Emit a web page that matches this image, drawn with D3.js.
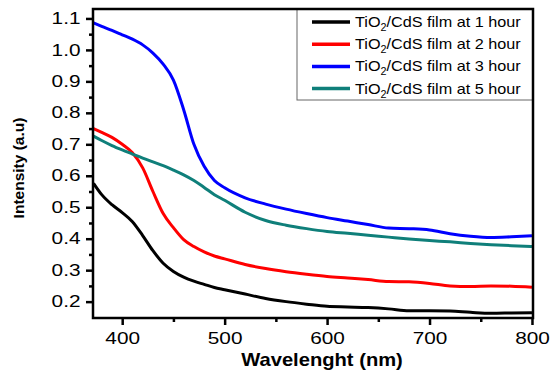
<!DOCTYPE html>
<html>
<head>
<meta charset="utf-8">
<script src="https://cdn.jsdelivr.net/npm/d3@7"></script>
<style>
  body { margin: 0; background: #fff; }
  text { font-family: "Liberation Sans", Arial, sans-serif; fill: #000; }
</style>
</head>
<body>
<div id="chart"></div>
<script>
// wavelength grid (nm)
const wavelength = [372, 380, 390, 400, 410, 420, 430, 440, 450, 460, 470, 480, 490, 500,
  520, 540, 560, 580, 600, 620, 640, 660, 680, 700, 720, 740, 760, 780, 800];

const hour1 = [0.576, 0.54, 0.508, 0.483, 0.454, 0.41, 0.362, 0.322, 0.296, 0.278, 0.265, 0.255, 0.245, 0.238,
  0.224, 0.21, 0.2, 0.192, 0.185, 0.183, 0.181, 0.177, 0.171, 0.171, 0.17, 0.166, 0.163, 0.164, 0.165];
const hour2 = [0.75, 0.738, 0.722, 0.70, 0.673, 0.625, 0.55, 0.48, 0.435, 0.397, 0.375, 0.358, 0.345, 0.336,
  0.318, 0.305, 0.295, 0.287, 0.28, 0.275, 0.27, 0.264, 0.263, 0.258, 0.25, 0.248, 0.25, 0.249, 0.246];
const hour3 = [1.086, 1.075, 1.062, 1.048, 1.034, 1.016, 0.99, 0.955, 0.904, 0.81, 0.70, 0.63, 0.585, 0.562,
  0.53, 0.51, 0.494, 0.48, 0.467, 0.456, 0.445, 0.434, 0.432, 0.428, 0.416, 0.408, 0.404, 0.406, 0.409];
const hour5 = [0.726, 0.712, 0.696, 0.682, 0.669, 0.656, 0.644, 0.632, 0.618, 0.603, 0.585, 0.563, 0.54, 0.522,
  0.484, 0.458, 0.443, 0.432, 0.423, 0.417, 0.411, 0.405, 0.399, 0.394, 0.39, 0.385, 0.381, 0.378, 0.375];

const seriesNames = ["1 hour", "2 hour", "3 hour", "5 hour"];
const seriesValues = [hour1, hour2, hour3, hour5];
const seriesColors = ["#000000", "#ff0000", "#0000ff", "#0f7f7a"];

const xTicks = [400, 500, 600, 700, 800];
const xMinorTicks = [450, 550, 650, 750];
const yTicks = [0.2, 0.3, 0.4, 0.5, 0.6, 0.7, 0.8, 0.9, 1.0, 1.1];
const yMinorTicks = [0.25, 0.35, 0.45, 0.55, 0.65, 0.75, 0.85, 0.95, 1.05];

const width = 550, height = 373;
const mLeft = 93, mRight = 533, mTop = 9, mBottom = 318;

const svg = d3.select("#chart").append("svg")
  .attr("width", width)
  .attr("height", height);

const x = d3.scaleLinear().domain([371.5, 801]).range([mLeft, mRight]);
const y = d3.scaleLinear().domain([0.148, 1.13]).range([mBottom, mTop]);

// minor ticks
svg.append("g")
  .attr("transform", "translate(0," + mBottom + ")")
  .call(d3.axisBottom(x).tickValues(xMinorTicks).tickSize(4).tickFormat(""))
  .call(g => g.select(".domain").remove())
  .selectAll("line").attr("stroke-width", 2.5);
svg.append("g")
  .attr("transform", "translate(" + mLeft + ",0)")
  .call(d3.axisLeft(y).tickValues(yMinorTicks).tickSize(4).tickFormat(""))
  .call(g => g.select(".domain").remove())
  .selectAll("line").attr("stroke-width", 2.5);

// major ticks + labels
const xAxis = svg.append("g")
  .attr("transform", "translate(0," + mBottom + ")")
  .call(d3.axisBottom(x).tickValues(xTicks).tickSize(7).tickFormat(d3.format("d")))
  .call(g => g.select(".domain").remove());
xAxis.selectAll("line").attr("stroke-width", 2.5);
xAxis.selectAll("text")
  .attr("y", 26).attr("dy", 0)
  .attr("transform", "scale(1.3,1)")
  .style("font-size", "16px")
  .style("font-family", "Liberation Sans, Arial, sans-serif");

const yAxis = svg.append("g")
  .attr("transform", "translate(" + mLeft + ",0)")
  .call(d3.axisLeft(y).tickValues(yTicks).tickSize(7).tickFormat(d3.format(".1f")))
  .call(g => g.select(".domain").remove());
yAxis.selectAll("line").attr("stroke-width", 2.5);
yAxis.selectAll("text")
  .attr("x", -12.5 / 1.3)
  .attr("transform", "scale(1.3,1)")
  .style("font-size", "16px")
  .style("font-family", "Liberation Sans, Arial, sans-serif");

// curves
const line = d3.line()
  .x((d, i) => x(wavelength[i]))
  .y(d => y(d))
  .curve(d3.curveMonotoneX);

svg.append("g").selectAll("path")
  .data(seriesValues)
  .enter()
  .append("path")
  .attr("d", d => line(d))
  .attr("fill", "none")
  .attr("stroke", (d, i) => seriesColors[i])
  .attr("stroke-width", 3)
  .attr("stroke-linejoin", "round");

// legend box
svg.append("rect")
  .attr("x", 297).attr("y", mTop)
  .attr("width", mRight - 297).attr("height", 100 - mTop)
  .attr("fill", "#fff")
  .attr("stroke", "#666")
  .attr("stroke-width", 1);

const legend = svg.append("g").selectAll("g")
  .data(seriesNames)
  .enter()
  .append("g")
  .attr("transform", (d, i) => "translate(0," + (22 + i * 22.2) + ")");

legend.append("line")
  .attr("x1", 312).attr("x2", 350)
  .attr("stroke", (d, i) => seriesColors[i])
  .attr("stroke-width", 3.5);

const ltext = legend.append("text")
  .attr("transform", "translate(355,5) scale(1.08,1)")
  .style("font-size", "15px");
ltext.append("tspan").text("TiO");
ltext.append("tspan").attr("dy", 4).style("font-size", "10px").text("2");
ltext.append("tspan").attr("dy", -4).text(d => "/CdS film at " + d);

// frame
svg.append("rect")
  .attr("x", mLeft).attr("y", mTop)
  .attr("width", mRight - mLeft).attr("height", mBottom - mTop)
  .attr("fill", "none")
  .attr("stroke", "#000")
  .attr("stroke-width", 2.5);

// titles
svg.append("text")
  .attr("transform", "translate(322,366) scale(1.12,1)")
  .attr("text-anchor", "middle")
  .style("font-size", "18px")
  .style("font-weight", "bold")
  .text("Wavelenght (nm)");

svg.append("text")
  .attr("transform", "translate(24,168) rotate(-90)")
  .attr("text-anchor", "middle")
  .style("font-size", "15.5px")
  .style("font-weight", "bold")
  .text("Intensity (a.u)");
</script>
</body>
</html>
